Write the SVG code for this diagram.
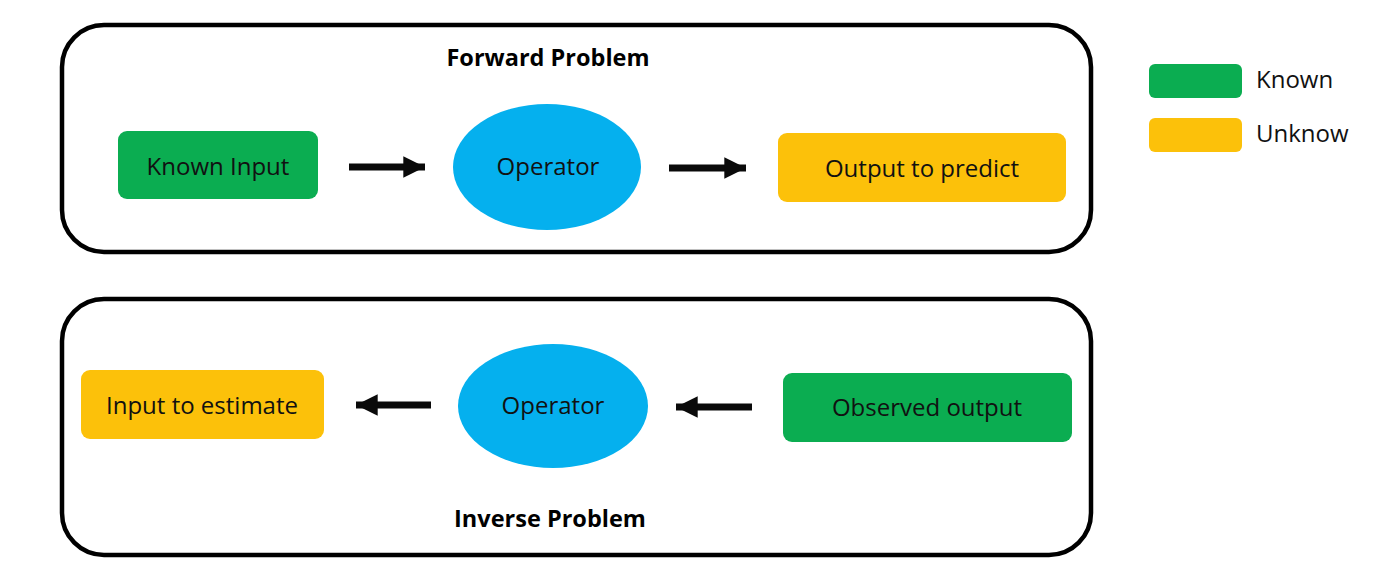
<svg xmlns="http://www.w3.org/2000/svg" width="1400" height="575" viewBox="0 0 1400 575">
<style>
.frame{fill:#fff;stroke:#000;stroke-width:4.5}
.green{fill:#0BAD51}
.yellow{fill:#FCC10A}
.op{fill:#05B0EE}
.lbl{font-family:"Open Sans","Noto Sans",sans-serif;font-size:24px;fill:#111;text-anchor:middle}
.title{font-family:"Open Sans","Noto Sans",sans-serif;font-size:23.5px;font-weight:bold;fill:#000;text-anchor:middle}
.leg{font-family:"Open Sans","Noto Sans",sans-serif;font-size:24px;fill:#111}
.conn{stroke:#0a0a0a;stroke-width:7;fill:none}
</style>
<defs>
<marker id="ah" viewBox="0 0 10 10" refX="10" refY="5" markerWidth="3.1" markerHeight="3.1" markerUnits="strokeWidth" orient="auto">
<path d="M0,0 L10,5 L0,10 z" fill="#0a0a0a"/>
</marker>
</defs>
<rect width="1400" height="575" fill="#fff"/>
<g id="forward-frame">
<rect class="frame" x="62" y="25" width="1029" height="227" rx="42"/>
<text class="title" x="548" y="66">Forward Problem</text>
</g>
<g id="inverse-frame">
<rect class="frame" x="62" y="299" width="1029" height="256" rx="42"/>
<text class="title" x="550" y="527">Inverse Problem</text>
</g>
<g id="known-input">
<rect class="green" x="118" y="131" width="200" height="68" rx="9"/>
<text class="lbl" x="218" y="175">Known Input</text>
</g>
<g id="operator-forward">
<ellipse class="op" cx="547" cy="167" rx="94" ry="63"/>
<text class="lbl" x="548" y="175">Operator</text>
</g>
<g id="output-predict">
<rect class="yellow" x="778" y="133" width="288" height="69" rx="9"/>
<text class="lbl" x="922" y="177">Output to predict</text>
</g>
<g id="input-estimate">
<rect class="yellow" x="81" y="370" width="243" height="69" rx="9"/>
<text class="lbl" x="202" y="414">Input to estimate</text>
</g>
<g id="operator-inverse">
<ellipse class="op" cx="553" cy="406" rx="95" ry="62"/>
<text class="lbl" x="553" y="414">Operator</text>
</g>
<g id="observed-output">
<rect class="green" x="783" y="373" width="289" height="69" rx="9"/>
<text class="lbl" x="927" y="416">Observed output</text>
</g>
<g id="legend">
<rect class="green" x="1149" y="64" width="93" height="34" rx="6"/>
<text class="leg" x="1256" y="88">Known</text>
<rect class="yellow" x="1149" y="118" width="93" height="34" rx="6"/>
<text class="leg" x="1256" y="142">Unknow</text>
</g>
<g id="connectors">
<line class="conn" x1="349" y1="167" x2="425" y2="167" marker-end="url(#ah)"/>
<line class="conn" x1="669" y1="168" x2="746" y2="168" marker-end="url(#ah)"/>
<line class="conn" x1="431" y1="405" x2="356" y2="405" marker-end="url(#ah)"/>
<line class="conn" x1="752" y1="407" x2="676" y2="407" marker-end="url(#ah)"/>
</g>
</svg>
